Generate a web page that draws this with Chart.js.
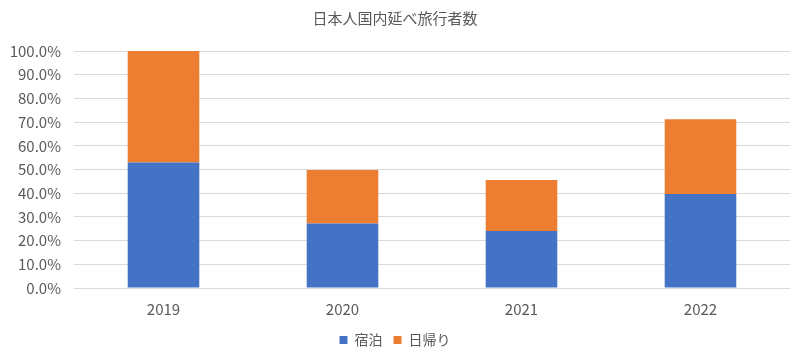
<!DOCTYPE html>
<html>
<head>
<meta charset="utf-8">
<script src="https://cdn.jsdelivr.net/npm/chart.js@4/dist/chart.umd.min.js"></script>
<style>
html,body{margin:0;padding:0;background:#fff;}
#wrap{width:800px;height:357px;position:relative;}
</style>
</head>
<body>
<div id="wrap"><canvas id="c" width="800" height="357"></canvas></div>
<script>
const categories = ["2019", "2020", "2021", "2022"];
const stayValues = [0.530, 0.272, 0.241, 0.397];
const dayTripValues = [0.470, 0.226, 0.215, 0.315];
const seriesNames = ["宿泊", "日帰り"];
const chartTitle = "日本人国内延べ旅行者数";

const FONT = "'Noto Sans CJK JP', 'Noto Sans', sans-serif";
new Chart(document.getElementById('c'), {
  type: 'bar',
  data: {
    labels: categories,
    datasets: [
      { label: seriesNames[0], data: stayValues, backgroundColor: '#4472C4', borderColor: '#4472C4', borderWidth: 0, categoryPercentage: 0.4, barPercentage: 1 },
      { label: seriesNames[1], data: dayTripValues, backgroundColor: '#ED7D31', borderColor: '#ED7D31', borderWidth: 0, categoryPercentage: 0.4, barPercentage: 1 }
    ]
  },
  options: {
    responsive: false,
    animation: false,
    layout: { padding: { left: 0, right: 10, top: 5, bottom: 0 } },
    plugins: {
      title: { display: true, text: chartTitle, color: '#595959', font: { family: FONT, size: 15, weight: 'normal' }, padding: { top: 4, bottom: 24 } },
      legend: { position: 'bottom', labels: { color: '#595959', font: { family: FONT, size: 14 }, boxWidth: 8, boxHeight: 8, padding: 11 } },
      tooltip: { enabled: false }
    },
    scales: {
      x: { stacked: true, grid: { display: false }, border: { display: false }, ticks: { color: '#595959', font: { family: FONT, size: 15 }, padding: 4 } },
      y: { stacked: true, min: 0, max: 1, afterFit: axis => { axis.width = 74; },
           ticks: { stepSize: 0.1, color: '#595959', font: { family: FONT, size: 15 }, padding: 13, callback: v => (v * 100).toFixed(1) + '%' },
           grid: { color: '#d9d9d9', lineWidth: 1, drawTicks: false }, border: { display: false } }
    }
  }
});
</script>
</body>
</html>
